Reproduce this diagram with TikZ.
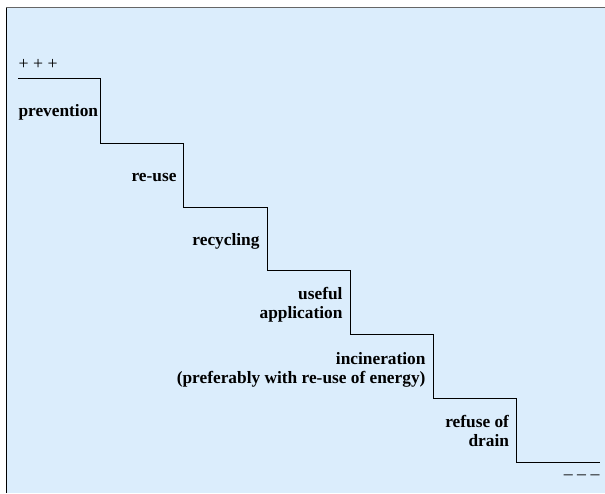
\documentclass[tikz,border=0pt]{standalone}
\usepackage{fontspec}
\setmainfont{Liberation Serif}
\definecolor{bgblue}{RGB}{219,237,252}
\tikzset{
  stage/.style={font=\fontsize{10.4}{11.4}\selectfont\bfseries, inner sep=0pt, align=right, anchor=base east},
}
\begin{document}
\begin{tikzpicture}[x=0.6pt, y=-0.6pt, semithick,
  every node/.style={font=\fontsize{10.7}{11.4}\selectfont}]
  \useasboundingbox (0,0) rectangle (605,493);
  % pozadí s rámečkem
  \fill[bgblue] (6,8) rectangle (605,493);
  \draw[gray!80!black] (6,7.5) -- (605,7.5);
  \draw (6,7.5) -- (6,493);
  % schody
  \draw (18,78) -| (100,143) -| (183,207) -| (267,270) -| (350,334)
    -| (433,398) -| (516,462) -- (600,462);
  % popisky (u víceřádkových je base na posledním řádku)
  \node[inner sep=0pt, anchor=base west] (plus) at (18,69) {+ + +};
  \node[stage, anchor=base west] (prev) at (18,116.5) {prevention};
  \node[stage] (reuse) at (177,181) {re-use};
  \node[stage] (recyc) at (260,245) {recycling};
  \node[stage] (useful) at (343,318) {useful\\application};
  \node[stage] (incin) at (426,383) {incineration\\(preferably with re-use of energy)};
  \node[stage] (refuse) at (509.5,446) {refuse of\\drain};
  \node[inner sep=0pt, anchor=base east] (minus) at (600,479) {– – –};
\end{tikzpicture}
\end{document}
